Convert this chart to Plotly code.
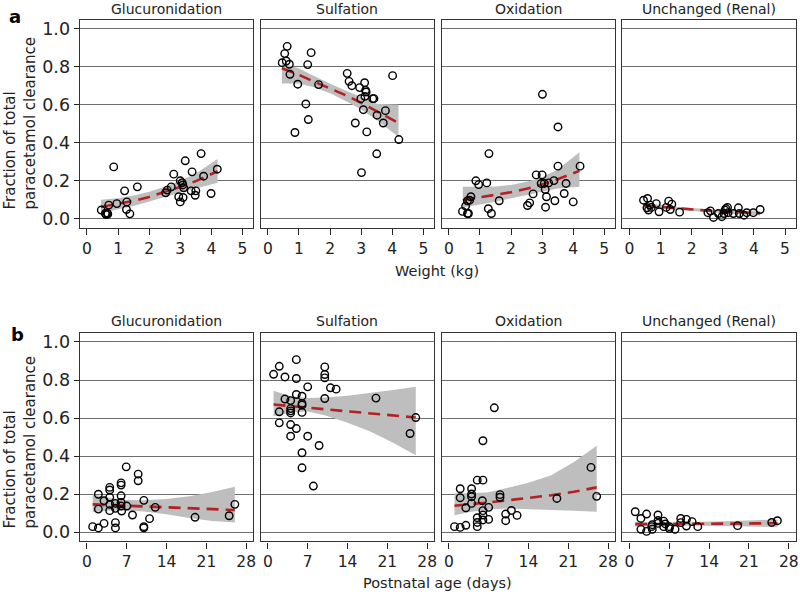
import plotly.graph_objects as go

W, H = 800, 594
FONT = "DejaVu Sans"

methods = ["Glucuronidation", "Sulfation", "Oxidation", "Unchanged (Renal)"]

# ---------------- Row a : fraction vs weight (kg) ----------------
a_gluc_x = [0.46, 0.59, 0.62, 0.65, 0.67, 0.70, 0.86, 0.96, 1.21, 1.28, 1.27, 1.38, 1.62,
            2.53, 2.58, 2.71, 2.79, 2.95, 3.00, 3.00, 3.06, 3.08, 3.09, 3.11, 3.16,
            3.35, 3.38, 3.48, 3.50, 3.67, 3.75, 3.99, 4.19]
a_gluc_y = [0.046, 0.028, 0.022, 0.030, 0.025, 0.072, 0.273, 0.080, 0.147, 0.089, 0.049, 0.026, 0.168,
            0.137, 0.151, 0.168, 0.235, 0.116, 0.200, 0.089, 0.190, 0.178, 0.112, 0.163, 0.305,
            0.147, 0.247, 0.124, 0.147, 0.343, 0.224, 0.133, 0.261]

a_sulf_x = [0.46, 0.54, 0.62, 0.59, 0.69, 0.71, 0.96, 0.87, 1.28, 1.39, 1.22, 1.30, 1.63,
            2.55, 2.61, 2.70, 2.81, 2.95, 2.99, 3.01, 3.07, 3.11, 3.14, 3.16, 3.12, 3.18,
            3.37, 3.41, 3.51, 3.50, 3.71, 3.78, 4.01, 4.21]
a_sulf_y = [0.821, 0.869, 0.907, 0.830, 0.813, 0.760, 0.708, 0.454, 0.811, 0.874, 0.604, 0.522, 0.706,
            0.765, 0.723, 0.700, 0.504, 0.690, 0.632, 0.243, 0.574, 0.716, 0.676, 0.667, 0.644, 0.457,
            0.632, 0.632, 0.545, 0.342, 0.504, 0.569, 0.753, 0.417]

a_oxid_x = [0.44, 0.54, 0.60, 0.63, 0.60, 0.67, 0.71, 0.87, 0.96, 1.22, 1.29, 1.27, 1.37, 1.62,
            2.53, 2.60, 2.71, 2.81, 3.00, 3.01, 2.97, 3.07, 3.10, 3.14, 3.11, 3.21, 3.38, 3.41,
            3.51, 3.51, 3.71, 3.77, 4.00, 4.22]
a_oxid_y = [0.039, 0.067, 0.028, 0.028, 0.095, 0.098, 0.116, 0.200, 0.180, 0.189, 0.343, 0.053, 0.028, 0.095,
            0.070, 0.084, 0.131, 0.231, 0.231, 0.655, 0.186, 0.186, 0.154, 0.116, 0.061, 0.189, 0.201, 0.095,
            0.483, 0.277, 0.133, 0.186, 0.089, 0.277]

a_renal_x = [0.45, 0.58, 0.56, 0.61, 0.66, 0.70, 0.86, 0.95, 1.18, 1.26, 1.36, 1.31, 1.61,
             2.52, 2.60, 2.70, 2.86, 2.97, 3.04, 3.07, 3.10, 3.15, 3.17, 3.34, 3.50, 3.53,
             3.68, 3.77, 3.98, 4.20]
a_renal_y = [0.098, 0.107, 0.058, 0.046, 0.072, 0.060, 0.080, 0.037, 0.060, 0.093, 0.077, 0.049, 0.035,
             0.032, 0.042, 0.007, 0.028, 0.011, 0.028, 0.046, 0.054, 0.060, 0.032, 0.028, 0.058, 0.028,
             0.019, 0.032, 0.032, 0.049]

# model fits for row a
a_fit_x = [0.45, 1.0, 1.5, 2.0, 2.5, 3.0, 3.5, 4.2]
a_gluc_fit = [0.062, 0.078, 0.094, 0.115, 0.140, 0.168, 0.198, 0.250]
a_gluc_lo = [0.028, 0.050, 0.068, 0.090, 0.115, 0.138, 0.162, 0.190]
a_gluc_hi = [0.100, 0.108, 0.122, 0.142, 0.168, 0.200, 0.238, 0.315]
a_sulf_fit = [0.792, 0.757, 0.720, 0.685, 0.650, 0.610, 0.565, 0.504]
a_sulf_lo = [0.712, 0.712, 0.690, 0.660, 0.620, 0.575, 0.520, 0.430]
a_sulf_hi = [0.820, 0.790, 0.750, 0.710, 0.675, 0.640, 0.605, 0.600]
a_oxid_fit = [0.098, 0.112, 0.125, 0.140, 0.158, 0.180, 0.208, 0.252]
a_oxid_lo = [0.060, 0.075, 0.090, 0.105, 0.122, 0.142, 0.160, 0.168]
a_oxid_hi = [0.168, 0.168, 0.170, 0.178, 0.195, 0.218, 0.260, 0.350]
a_renal_fit = [0.070, 0.062, 0.055, 0.049, 0.043, 0.038, 0.034, 0.029]
a_renal_lo = [0.055, 0.051, 0.046, 0.041, 0.036, 0.031, 0.026, 0.018]
a_renal_hi = [0.085, 0.073, 0.064, 0.057, 0.050, 0.045, 0.042, 0.042]

# ---------------- Row b : fraction vs postnatal age (days) ----------------
b_gluc_x = [1, 2, 2, 2, 3, 3, 4, 4, 4, 4, 4, 5, 5, 5, 5, 6, 6, 6, 6, 6, 6.1,
            6.9, 7, 8, 9, 9, 10, 10, 10, 11, 12, 19, 25, 26]
b_gluc_y = [0.030, 0.200, 0.122, 0.023, 0.166, 0.047, 0.236, 0.222, 0.184, 0.147, 0.114,
            0.152, 0.126, 0.051, 0.023, 0.260, 0.248, 0.192, 0.157, 0.138, 0.112,
            0.344, 0.138, 0.091, 0.306, 0.271, 0.168, 0.030, 0.024, 0.072, 0.131, 0.079, 0.087, 0.147]

b_sulf_x = [1, 2, 2, 2, 3, 3, 4, 4, 4, 4, 4, 4, 5, 5, 5, 5, 6, 6, 6, 6, 6, 6,
            7, 7, 8, 9, 10, 10, 10, 10, 11, 12, 19, 25, 26]
b_sulf_y = [0.830, 0.872, 0.633, 0.575, 0.816, 0.700, 0.692, 0.650, 0.638, 0.627, 0.566, 0.505,
            0.907, 0.808, 0.724, 0.545, 0.715, 0.677, 0.668, 0.630, 0.418, 0.339,
            0.764, 0.505, 0.243, 0.456, 0.869, 0.829, 0.811, 0.703, 0.759, 0.752, 0.705, 0.519, 0.603]

b_oxid_x = [1, 2, 2, 2, 3, 3, 4, 4, 4, 4, 5, 5, 5, 5, 6, 6, 5.9, 6, 6, 6,
            7, 7, 8, 9, 9, 10, 10, 11, 12, 19, 25, 26]
b_oxid_y = [0.030, 0.026, 0.229, 0.182, 0.037, 0.129, 0.229, 0.201, 0.187, 0.152,
            0.274, 0.077, 0.052, 0.030, 0.274, 0.481, 0.166, 0.114, 0.091, 0.065,
            0.131, 0.068, 0.654, 0.198, 0.184, 0.096, 0.061, 0.115, 0.089, 0.178, 0.341, 0.189]

b_renal_x = [1, 2, 2, 3, 3, 3.9, 4, 4, 5, 5, 5, 6, 6, 6.3, 7, 7, 8, 9, 9, 10, 10, 11, 12, 19, 25, 26]
b_renal_y = [0.108, 0.073, 0.016, 0.096, 0.005, 0.030, 0.016, 0.040, 0.091, 0.047, 0.062,
             0.059, 0.030, 0.044, 0.030, 0.020, 0.016, 0.073, 0.051, 0.068, 0.033, 0.056,
             0.030, 0.035, 0.052, 0.061]

b_fit_x = [1, 4, 7, 10, 14, 18, 22, 26]
b_gluc_fit = [0.147, 0.143, 0.140, 0.136, 0.131, 0.127, 0.122, 0.117]
b_gluc_lo = [0.105, 0.115, 0.115, 0.110, 0.095, 0.075, 0.060, 0.052]
b_gluc_hi = [0.200, 0.180, 0.170, 0.168, 0.175, 0.190, 0.212, 0.240]
b_sulf_fit = [0.671, 0.663, 0.655, 0.647, 0.636, 0.625, 0.614, 0.603]
b_sulf_lo = [0.610, 0.630, 0.635, 0.615, 0.575, 0.530, 0.470, 0.405]
b_sulf_hi = [0.743, 0.715, 0.705, 0.708, 0.718, 0.732, 0.748, 0.764]
b_oxid_fit = [0.140, 0.147, 0.157, 0.167, 0.180, 0.195, 0.213, 0.236]
b_oxid_lo = [0.090, 0.108, 0.120, 0.125, 0.122, 0.118, 0.113, 0.108]
b_oxid_hi = [0.205, 0.205, 0.210, 0.230, 0.260, 0.300, 0.370, 0.455]
b_renal_fit = [0.043, 0.043, 0.044, 0.044, 0.045, 0.046, 0.047, 0.048]
b_renal_lo = [0.030, 0.035, 0.037, 0.036, 0.034, 0.032, 0.030, 0.028]
b_renal_hi = [0.056, 0.051, 0.050, 0.052, 0.056, 0.060, 0.064, 0.068]

a_xticks = [0, 1, 2, 3, 4, 5]
b_xticks = [0, 7, 14, 21, 28]
y_ticks = [0.0, 0.2, 0.4, 0.6, 0.8, 1.0]

rows = [
    dict(xs=[a_gluc_x, a_sulf_x, a_oxid_x, a_renal_x],
         ys=[a_gluc_y, a_sulf_y, a_oxid_y, a_renal_y],
         fx=a_fit_x,
         fit=[a_gluc_fit, a_sulf_fit, a_oxid_fit, a_renal_fit],
         lo=[a_gluc_lo, a_sulf_lo, a_oxid_lo, a_renal_lo],
         hi=[a_gluc_hi, a_sulf_hi, a_oxid_hi, a_renal_hi],
         xrange=[-0.234, 5.34], xticks=a_xticks,
         top=19, bottom=227.7, title_y=8, label="a", label_xy=(15.5, 16),
         xtitle="Weight (kg)", xtitle_y=271, ytitle_y=122),
    dict(xs=[b_gluc_x, b_sulf_x, b_oxid_x, b_renal_x],
         ys=[b_gluc_y, b_sulf_y, b_oxid_y, b_renal_y],
         fx=b_fit_x,
         fit=[b_gluc_fit, b_sulf_fit, b_oxid_fit, b_renal_fit],
         lo=[b_gluc_lo, b_sulf_lo, b_oxid_lo, b_renal_lo],
         hi=[b_gluc_hi, b_sulf_hi, b_oxid_hi, b_renal_hi],
         xrange=[-1.28, 29.2], xticks=b_xticks,
         top=333.3, bottom=542.3, title_y=321, label="b", label_xy=(18, 335),
         xtitle="Postnatal age (days)", xtitle_y=584, ytitle_y=442),
]

panel_left = [80, 261.6, 443.2, 624.6]
panel_w = 174

fig = go.Figure()
layout = {}
annotations = []
k = 0
for r, row in enumerate(rows):
    for c in range(4):
        k += 1
        xa = "x" if k == 1 else f"x{k}"
        ya = "y" if k == 1 else f"y{k}"
        fx = row["fx"]
        band_x = fx + fx[::-1]
        band_y = row["hi"][c] + row["lo"][c][::-1]
        fig.add_trace(go.Scatter(x=band_x, y=band_y, fill="toself", fillcolor="#bebebe",
                                 line=dict(width=0), mode="lines", hoverinfo="skip",
                                 showlegend=False, xaxis=xa, yaxis=ya))
        fig.add_trace(go.Scatter(x=fx, y=row["fit"][c], mode="lines",
                                 line=dict(color="#b22222", width=2.6, dash="12px,7px"),
                                 showlegend=False, xaxis=xa, yaxis=ya))
        fig.add_trace(go.Scatter(x=row["xs"][c], y=row["ys"][c], mode="markers",
                                 marker=dict(symbol="circle-open", size=7.5, color="black",
                                             line=dict(width=1.4, color="black")),
                                 showlegend=False, xaxis=xa, yaxis=ya))
        x0 = panel_left[c] / W
        x1 = (panel_left[c] + panel_w) / W
        y0 = 1 - row["bottom"] / H
        y1 = 1 - row["top"] / H
        xkey = "xaxis" if k == 1 else f"xaxis{k}"
        ykey = "yaxis" if k == 1 else f"yaxis{k}"
        layout[xkey] = dict(domain=[x0, x1], anchor=ya, range=row["xrange"],
                            tickvals=row["xticks"], ticks="outside", ticklen=6,
                            tickwidth=1.3, tickcolor="#222", showline=True,
                            linecolor="#333", linewidth=1.3, mirror=True,
                            showgrid=False, zeroline=False,
                            tickfont=dict(family=FONT, size=15.5, color="#222"))
        layout[ykey] = dict(domain=[y0, y1], anchor=xa, range=[-0.048, 1.046],
                            tickvals=y_ticks, tickformat=".1f",
                            ticks="outside" if c == 0 else "", ticklen=5,
                            tickwidth=1.3, tickcolor="#222",
                            showticklabels=(c == 0), showline=True,
                            linecolor="#333", linewidth=1.3, mirror=True,
                            showgrid=True, gridcolor="#6e6e6e", gridwidth=1,
                            zeroline=False,
                            tickfont=dict(family=FONT, size=17.5, color="#222"))
        annotations.append(dict(text=methods[c], xref="paper", yref="paper",
                                x=(panel_left[c] + panel_w / 2) / W,
                                y=1 - row["title_y"] / H, xanchor="center",
                                yanchor="middle", showarrow=False,
                                font=dict(family=FONT, size=14, color="#222")))
    annotations.append(dict(text=row["label"], xref="paper", yref="paper",
                            x=row["label_xy"][0] / W, y=1 - row["label_xy"][1] / H,
                            xanchor="center", yanchor="middle", showarrow=False,
                            font=dict(family=FONT, size=18, color="black", weight="bold")))
    annotations.append(dict(text=row["xtitle"], xref="paper", yref="paper",
                            x=439 / W, y=1 - row["xtitle_y"] / H,
                            xanchor="center", yanchor="middle", showarrow=False,
                            font=dict(family=FONT, size=14.5, color="#222")))
    annotations.append(dict(text="Fraction of total<br>paracetamol clearance",
                            xref="paper", yref="paper", x=20 / W,
                            y=1 - row["ytitle_y"] / H, xanchor="center",
                            yanchor="middle", textangle=-90, align="left",
                            showarrow=False,
                            font=dict(family=FONT, size=15, color="#222")))

fig.update_layout(width=W, height=H, margin=dict(l=0, r=0, t=0, b=0),
                  plot_bgcolor="white", paper_bgcolor="white", hovermode=False,
                  annotations=annotations, **layout)

# remove the browser's default 8px body margin so the figure fills the window exactly
fig.write_html("out.html", config={"displayModeBar": False},
               post_script="document.body.style.margin='0px';document.body.style.overflow='hidden';")
